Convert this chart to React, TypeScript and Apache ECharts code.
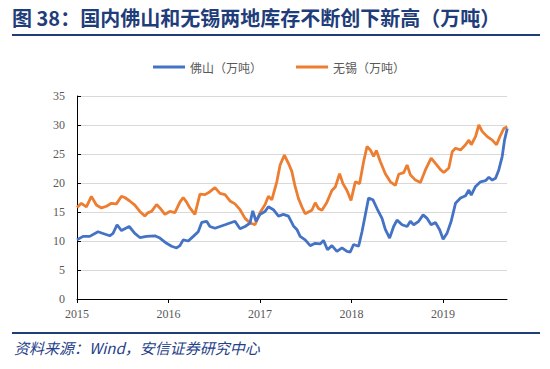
import React, { useEffect, useRef } from "react";
import * as echarts from "echarts";

const TITLE = "图 38：国内佛山和无锡两地库存不断创下新高（万吨）";
const SOURCE = "资料来源：Wind，安信证券研究中心";
const SERIES_NAMES = ["佛山（万吨）", "无锡（万吨）"];
const Y_TICKS = [0, 5, 10, 15, 20, 25, 30, 35];
const X_START = 2015;
const X_END = 2019.7;

// 佛山 (years since 2015, value)
const fsYears = [0.0, 0.066, 0.139, 0.23, 0.285, 0.358, 0.394, 0.438, 0.486, 0.57, 0.632, 0.687, 0.76, 0.851, 0.906, 0.979, 1.034, 1.089, 1.125,
  1.161, 1.216, 1.271, 1.325, 1.363, 1.417, 1.453, 1.508, 1.563, 1.618, 1.672, 1.727, 1.782, 1.837, 1.891, 1.921, 1.957, 2.001, 2.056, 2.092, 2.147, 2.202, 2.256, 2.311, 2.366,
  2.403, 2.439, 2.494, 2.549, 2.604, 2.659, 2.694, 2.738, 2.786, 2.841, 2.896, 2.951, 2.987, 3.023, 3.078, 3.115, 3.151, 3.187, 3.235, 3.279, 3.334, 3.37, 3.417, 3.461, 3.498, 3.553,
  3.608, 3.644, 3.68, 3.735, 3.783, 3.827, 3.871, 3.918, 3.965, 4.002, 4.046, 4.09, 4.137, 4.192, 4.247, 4.283, 4.309, 4.356, 4.411, 4.465, 4.502, 4.539, 4.575, 4.611, 4.648, 4.673, 4.703];
const fsValues = [10.2, 10.8, 10.8, 11.6, 11.3, 10.9, 11.3, 12.8, 11.8, 12.5, 11.3, 10.6, 10.8, 10.9, 10.5, 9.6, 9.1, 8.8, 9.2,
  10.2, 10.0, 10.8, 11.6, 13.2, 13.4, 12.5, 12.2, 12.5, 12.8, 13.1, 13.4, 12.1, 12.5, 13.1, 15.2, 13.4, 14.6, 15.1, 15.9, 15.4, 14.3, 14.6, 14.3, 12.6,
  12.0, 10.8, 10.2, 9.2, 9.6, 9.5, 10.1, 8.5, 9.2, 8.2, 8.8, 8.2, 8.1, 9.4, 9.1, 11.6, 14.5, 17.4, 17.1, 15.6, 13.9, 12.0, 10.5, 12.5, 13.6, 12.8,
  12.5, 13.4, 12.8, 13.4, 14.5, 13.9, 12.8, 13.2, 11.9, 10.3, 11.4, 13.4, 16.5, 17.4, 17.8, 18.8, 17.9, 19.4, 20.2, 20.4, 21.0, 20.5, 20.8, 22.3, 24.6, 27.4, 29.4];

// 无锡 (years since 2015, value)
const wxYears = [0.0, 0.048, 0.103, 0.157, 0.212, 0.267, 0.322, 0.376, 0.431, 0.486, 0.522, 0.577, 0.632, 0.687, 0.741, 0.778, 0.815, 0.87, 0.906, 0.961, 1.015, 1.07, 1.125,
  1.161, 1.198, 1.234, 1.289, 1.344, 1.399, 1.453, 1.508, 1.563, 1.618, 1.672, 1.727, 1.782, 1.837, 1.891, 1.946, 2.001, 2.056, 2.092, 2.129, 2.184, 2.22, 2.267, 2.311,
  2.348, 2.384, 2.421, 2.458, 2.494, 2.53, 2.567, 2.604, 2.64, 2.677, 2.732, 2.786, 2.823, 2.87, 2.907, 2.951, 2.995, 3.042, 3.089, 3.133, 3.17, 3.206, 3.242, 3.272, 3.315, 3.37, 3.425, 3.48, 3.516, 3.571,
  3.608, 3.644, 3.699, 3.754, 3.809, 3.871, 3.918, 3.973, 4.009, 4.064, 4.101, 4.137, 4.192, 4.247, 4.283, 4.309, 4.356, 4.392, 4.429, 4.484, 4.539, 4.586, 4.622, 4.666, 4.703];
const wxValues = [15.8, 16.5, 15.9, 17.7, 16.2, 15.7, 16.0, 16.5, 16.4, 17.7, 17.5, 16.9, 16.2, 15.1, 14.3, 14.9, 15.1, 16.3, 15.7, 14.6, 15.1, 14.9, 16.7,
  17.5, 16.7, 15.7, 14.6, 18.1, 18.0, 18.5, 19.2, 18.2, 18.0, 16.9, 16.4, 15.4, 13.9, 13.1, 12.8, 14.9, 16.3, 17.7, 17.1, 20.2, 23.1, 24.8, 23.4,
  22.0, 19.4, 17.3, 15.9, 14.7, 15.0, 15.3, 16.6, 15.6, 15.3, 16.7, 18.7, 19.3, 21.6, 19.9, 18.7, 17.0, 20.2, 19.9, 23.7, 26.3, 25.7, 24.6, 25.6, 23.7, 21.6, 20.2, 19.6, 21.5, 21.8,
  23.1, 21.4, 20.5, 20.1, 22.3, 24.3, 23.4, 22.3, 21.8, 22.6, 25.4, 26.0, 25.7, 26.6, 27.4, 26.6, 28.0, 30.0, 28.9, 28.0, 27.4, 26.6, 28.0, 29.4, 29.7];

const COLORS = ["#4472C4", "#ED7D31"];

export default function App() {
  const ref = useRef<HTMLDivElement>(null);
  useEffect(() => {
    if (!ref.current) return;
    const chart = echarts.init(ref.current, undefined, { renderer: "svg" });
    const fsData = fsYears.map((t, i) => [X_START + t, fsValues[i]]);
    const wxData = wxYears.map((t, i) => [X_START + t, wxValues[i]]);
    chart.setOption({
      animation: false,
      backgroundColor: "#ffffff",
      color: COLORS,
      grid: { left: 77, right: 43, top: 96, bottom: 70, containLabel: false },
      legend: {
        top: 56,
        left: 148,
        itemGap: 34,
        itemWidth: 32,
        itemHeight: 3,
        icon: "rect",
        textStyle: { color: "#595959", fontSize: 12, fontFamily: "Noto Sans CJK SC" },
        data: SERIES_NAMES,
      },
      xAxis: {
        type: "value",
        min: X_START,
        max: X_END,
        interval: 1,
        axisLine: { show: true, lineStyle: { color: "#000000", width: 1 } },
        axisTick: { show: true, length: 4, lineStyle: { color: "#000000" } },
        splitLine: { show: false },
        axisLabel: {
          color: "#595959",
          fontSize: 12,
          fontFamily: "Liberation Serif",
          margin: 9,
          showMaxLabel: false,
          formatter: (v: number) => (Math.abs(v - Math.round(v)) < 1e-6 ? String(Math.round(v)) : ""),
        },
      },
      yAxis: {
        type: "value",
        min: Y_TICKS[0],
        max: Y_TICKS[Y_TICKS.length - 1],
        interval: 5,
        axisLine: { show: true, lineStyle: { color: "#000000", width: 1 } },
        axisTick: { show: true, inside: true, length: 4, lineStyle: { color: "#000000" } },
        splitLine: { show: true, lineStyle: { color: "#D9D9D9", width: 1 } },
        axisLabel: { color: "#595959", fontSize: 12, fontFamily: "Liberation Serif", margin: 12 },
      },
      series: [
        {
          name: SERIES_NAMES[0],
          type: "line",
          data: fsData,
          showSymbol: false,
          symbol: "none",
          lineStyle: { width: 2.8, color: COLORS[0] },
          z: 3,
        },
        {
          name: SERIES_NAMES[1],
          type: "line",
          data: wxData,
          showSymbol: false,
          symbol: "none",
          lineStyle: { width: 2.8, color: COLORS[1] },
          z: 2,
        },
      ],
      graphic: [
        {
          type: "text",
          left: 12,
          top: 7,
          style: {
            text: TITLE,
            fill: "#1F3D7A",
            font: 'bold 20px "Noto Sans CJK SC"',
          },
        },
        {
          type: "rect",
          shape: { x: 12, y: 34, width: 528, height: 2 },
          style: { fill: "#1F3D7A" },
        },
        {
          type: "rect",
          shape: { x: 12, y: 332, width: 528, height: 2 },
          style: { fill: "#1F3D7A" },
        },
        {
          type: "text",
          left: 14,
          top: 340,
          style: {
            text: SOURCE,
            fill: "#26408A",
            font: 'italic 15px "Noto Sans CJK SC"',
          },
        },
      ],
    });
    return () => chart.dispose();
  }, []);
  return <div ref={ref} style={{ width: 550, height: 369, position: "absolute", left: 0, top: 0 }} />;
}
